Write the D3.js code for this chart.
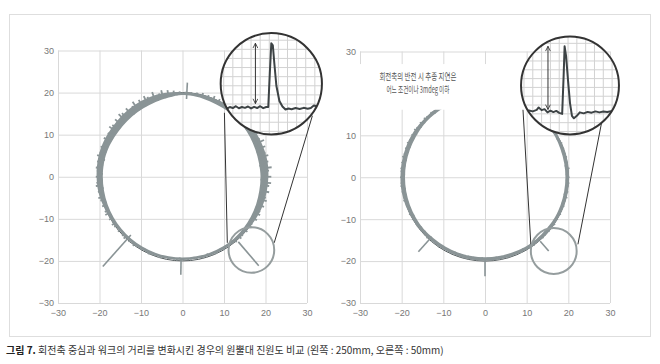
<!DOCTYPE html>
<html>
<head>
<meta charset="utf-8">
<script src="https://cdn.jsdelivr.net/npm/d3@7"></script>
<style>
  body { margin: 0; background: #fff; }
  svg { display: block; font-family: "Liberation Sans", "Noto Sans CJK KR", sans-serif; }
</style>
</head>
<body>
<div id="chart"></div>
<script>
// axis ticks (both panels)
const ticks = [-30, -20, -10, 0, 10, 20, 30];

// band (inner / outer radius of the measured trace), every 10 deg
const bandAngles = [0,10,20,30,40,50,60,70,80,90,100,110,120,130,140,150,160,170,
                    180,190,200,210,220,230,240,250,260,270,280,290,300,310,320,330,340,350];
const leftInner  = [18.8,18.7,18.7,18.8,18.9,19.0,19.0,19.1,19.3,19.4,19.1,18.9,18.8,18.8,18.8,18.9,19.1,19.2,
                    19.2,19.2,19.2,19.2,19.2,19.2,19.2,19.2,19.2,19.2,19.2,19.2,19.2,19.2,19.1,19.0,18.9,18.8];
const leftOuter  = [20.7,20.8,20.7,20.6,20.4,20.2,20.2,20.1,20.1,20.0,20.3,20.5,20.6,20.6,20.6,20.7,20.8,20.8,
                    20.7,20.6,20.3,20.1,19.9,19.9,19.9,19.9,19.8,19.8,19.8,19.9,19.9,20.0,20.1,20.3,20.5,20.6];
const rightInner = [19.3,19.3,19.3,19.4,19.4,19.4,19.4,19.4,19.4,19.4,19.4,19.4,19.3,19.3,19.3,19.2,19.2,19.2,
                    19.2,19.2,19.2,19.2,19.2,19.1,19.1,19.1,19.1,19.1,19.1,19.1,19.2,19.2,19.2,19.3,19.3,19.3];
const rightOuter = [20.2,20.2,20.2,20.1,20.1,20.1,20.1,20.1,20.1,20.1,20.1,20.2,20.2,20.2,20.2,20.3,20.3,20.3,
                    20.3,20.3,20.2,20.1,20.0,19.9,19.9,19.9,19.9,19.9,19.9,19.9,20.0,20.0,20.1,20.1,20.2,20.2];

// noise hairs: radius reached at each angle, every 2 deg
const hairAngles = d3.range(0, 360, 2);
const leftHair = [
  21.4,19.0,20.9,21.6,18.7,21.0,19.2,21.3,20.8,18.8,
  21.2,19.1,21.5,20.7,18.9,21.0,19.3,21.2,18.9,20.9,
  20.8,19.2,20.9,19.1,20.7,19.3,20.8,19.2,20.6,19.3,
  20.6,19.3,20.5,19.4,20.7,19.3,20.4,19.5,20.5,19.4,
  20.3,19.5,20.2,19.6,20.2,19.5,20.3,19.4,20.6,19.3,
  20.9,19.1,21.2,20.6,19.0,21.4,19.2,20.8,21.3,18.9,
  21.1,19.0,21.5,20.7,18.8,21.2,19.1,21.0,21.4,19.0,
  21.2,18.9,20.9,21.3,19.1,20.8,19.0,21.1,20.7,19.2,
  21.0,19.2,20.8,21.2,19.1,20.9,19.3,21.0,20.7,19.2,
  20.9,19.3,20.8,21.0,19.2,20.7,19.4,20.9,20.6,19.3,
  20.6,19.4,20.5,20.7,19.3,20.4,19.5,20.5,20.3,19.4,
  20.3,19.4,20.2,20.4,19.3,20.2,19.5,20.3,20.1,19.4,
  20.1,19.3,20.0,20.2,19.3,20.0,19.4,20.1,19.9,19.3,
  19.9,19.3,19.8,20.0,19.2,19.9,19.3,19.9,19.8,19.2,
  19.9,19.3,20.0,19.9,19.2,20.0,19.3,20.1,19.9,19.3,
  20.1,19.3,20.2,20.0,19.2,20.3,19.3,20.4,20.2,19.2,
  20.4,19.2,20.6,20.3,19.1,20.7,19.2,20.8,20.5,19.0,
  20.9,19.0,21.1,20.7,18.9,21.2,19.1,21.0,21.4,18.8];
const rightHair = [
  20.3,19.4,20.2,20.4,19.3,20.2,19.5,20.3,20.1,19.4,
  20.2,19.5,20.3,20.1,19.4,20.2,19.5,20.2,20.0,19.5,
  20.1,19.5,20.2,20.0,19.5,20.1,19.6,20.1,20.0,19.5,
  20.1,19.6,20.0,20.1,19.5,20.0,19.6,20.1,20.0,19.6,
  20.0,19.6,20.1,20.0,19.5,20.1,19.6,20.0,20.1,19.5,
  20.2,19.5,20.1,20.3,19.4,20.2,19.5,20.1,20.2,19.4,
  20.3,19.4,20.2,20.4,19.3,20.3,19.4,20.2,20.4,19.3,
  20.4,19.3,20.3,20.5,19.2,20.4,19.3,20.3,20.5,19.2,
  20.4,19.2,20.3,20.5,19.2,20.4,19.3,20.4,20.3,19.2,
  20.4,19.3,20.3,20.4,19.2,20.3,19.3,20.2,20.4,19.3,
  20.2,19.3,20.1,20.3,19.2,20.2,19.3,20.1,20.2,19.2,
  20.1,19.2,20.0,20.2,19.1,20.1,19.2,20.0,20.1,19.1,
  20.0,19.2,19.9,20.1,19.1,20.0,19.2,19.9,20.0,19.1,
  19.9,19.2,19.9,20.0,19.1,19.9,19.2,20.0,19.9,19.1,
  20.0,19.2,19.9,20.1,19.2,20.0,19.3,20.0,20.1,19.2,
  20.1,19.3,20.0,20.2,19.2,20.1,19.3,20.2,20.1,19.3,
  20.2,19.3,20.1,20.3,19.3,20.2,19.4,20.3,20.2,19.4,
  20.3,19.4,20.2,20.4,19.3,20.3,19.4,20.2,20.3,19.4];

// reversal spikes: [angle deg, r start, r end]
const leftSpikes  = [[87, 18.5, 22.4], [228, 18.6, 28.7], [269, 19.3, 23.3], [311, 20.5, 28.0]];
const rightSpikes = [[228, 19.8, 23.9], [270, 20.0, 23.6], [311, 20.2, 23.3]];
const refRadius = 20;

// zoomed trace inside the magnifier (local 0..100 units)
const leftMagX = [0,3,6,9,12,15,18,21,24,27,30,33,36,39,42,45,47,48.5,50,51.5,53,55,58,61,64,67,70,74,78,82,86,89,92,95,100];
const leftMagY = [26,27.5,25.5,27,26,27.8,25.8,27,26.2,27.5,25.6,27.2,26,27.8,25.9,27,27,60,90,88,70,48,33,27.5,24.5,25.5,24.8,26,25,26.2,25.3,26,28.5,27.8,26];
const rightMagX = [0,4,8,12,16,18,21,24,27,30,33,36,39,42,43.5,44.5,46,48,50,52,54,57,60,64,68,72,76,80,84,88,92,96,100];
const rightMagY = [24,23.2,24.5,23.5,25,27.5,24.8,25.8,22.5,24.2,22.8,24,22,21,60,90,80,55,32,19,16.5,19,22.5,21.5,23,22.2,23.5,22.5,23.3,22.8,23.6,23,23.5];
// double arrow: [x, y from, y to] local units
const leftArrow = [34.3, 30.4, 90];
const rightArrow = [27.5, 25.5, 90];

// magnifier & lens placement (data units)
const leftMag  = {cx: 21.4, cy: 22.1, r: 12.2};
const rightMag = {cx: 20.4, cy: 21.9, r: 11.75};
const leftLens  = {cx: 16.6, cy: -17.4, r: 5.5};
const rightLens = {cx: 16.5, cy: -17.6, r: 5.5};
const leftLinks  = [[10.1, 15.2, 10.8, -15.7], [31.3, 14.5, 22.1, -15.7]];
const rightLinks = [[9.1, 16.4, 11.0, -16.0], [28.5, 15.7, 22.3, -16.0]];

const noteLines = ["회전축의 반전 시 추종 지연은", "어느 조건이나 3mdeg 이하"];
const captionBold = "그림 7.";
const captionRest = " 회전축 중심과 워크의 거리를 변화시킨 경우의 원뿔대 진원도 비교 (왼쪽 : 250mm, 오른쪽 : 50mm)";

const W = 660, H = 364;
const traceColor = "#8a9496";

const svg = d3.select("#chart").append("svg")
    .attr("width", W).attr("height", H);

const defs = svg.append("defs");
defs.append("marker")
    .attr("id", "arrowhead")
    .attr("viewBox", "0 0 10 10")
    .attr("refX", 9).attr("refY", 5)
    .attr("markerWidth", 6).attr("markerHeight", 6)
    .attr("markerUnits", "userSpaceOnUse")
    .attr("orient", "auto-start-reverse")
  .append("path")
    .attr("d", "M1,1 L9,5 L1,9")
    .attr("fill", "none").attr("stroke", "#333").attr("stroke-width", 1.4);

// outer frame
svg.append("rect")
    .attr("x", 9.5).attr("y", 14.5)
    .attr("width", 641).attr("height", 322)
    .attr("fill", "none").attr("stroke", "#dedede");

function panel(opt) {
  const x = d3.scaleLinear().domain([-30, 30]).range(opt.xr);
  const y = d3.scaleLinear().domain([-30, 30]).range(opt.yr);
  const g = svg.append("g");

  // grid + labels
  const gy = g.append("g")
      .attr("transform", "translate(" + opt.xr[0] + ",0)")
      .call(d3.axisLeft(y).tickValues(ticks).tickSize(-(opt.xr[1] - opt.xr[0])).tickPadding(4));
  const gx = g.append("g")
      .attr("transform", "translate(0," + opt.yr[0] + ")")
      .call(d3.axisBottom(x).tickValues(ticks).tickSize(-(opt.yr[0] - opt.yr[1])).tickPadding(7));
  [gx, gy].forEach(a => {
    a.select(".domain").remove();
    a.selectAll("line").attr("stroke", "#d9d9d9");
    a.selectAll("text").attr("fill", "#777").style("font-size", "9px");
  });

  const pt = (deg, r) => [x(r * Math.cos(deg * Math.PI / 180)), y(r * Math.sin(deg * Math.PI / 180))];

  // reference circle
  g.append("ellipse")
      .attr("cx", x(0)).attr("cy", y(0))
      .attr("rx", x(refRadius) - x(0)).attr("ry", y(0) - y(refRadius))
      .attr("fill", "none").attr("stroke", "#4f5759").attr("stroke-width", 1);

  // band
  const closed = d3.line().curve(d3.curveCardinalClosed);
  const outer = closed(bandAngles.map((a, i) => pt(a, opt.outer[i])));
  const inner = closed(bandAngles.map((a, i) => pt(a, opt.inner[i])));
  g.append("path")
      .attr("d", outer + inner)
      .attr("fill-rule", "evenodd")
      .attr("fill", traceColor);

  // noise hairs from the band centre line
  const mid = a => {
    const k = Math.round(a / 10) % 36;
    return (opt.inner[k] + opt.outer[k]) / 2;
  };
  g.selectAll(".hair").data(hairAngles).enter().append("line")
      .attr("x1", a => pt(a, mid(a))[0]).attr("y1", a => pt(a, mid(a))[1])
      .attr("x2", (a, i) => pt(a, opt.hair[i])[0]).attr("y2", (a, i) => pt(a, opt.hair[i])[1])
      .attr("stroke", traceColor).attr("stroke-width", opt.hairWidth);

  // spikes
  g.selectAll(".spike").data(opt.spikes).enter().append("line")
      .attr("x1", d => pt(d[0], d[1])[0]).attr("y1", d => pt(d[0], d[1])[1])
      .attr("x2", d => pt(d[0], d[2])[0]).attr("y2", d => pt(d[0], d[2])[1])
      .attr("stroke", traceColor).attr("stroke-width", 1.6);

  // connecting lines
  g.selectAll(".link").data(opt.links).enter().append("line")
      .attr("x1", d => x(d[0])).attr("y1", d => y(d[1]))
      .attr("x2", d => x(d[2])).attr("y2", d => y(d[3]))
      .attr("stroke", "#333").attr("stroke-width", 1);

  // lens
  const lens = opt.lens;
  g.append("ellipse")
      .attr("cx", x(lens.cx)).attr("cy", y(lens.cy))
      .attr("rx", x(lens.cx + lens.r) - x(lens.cx)).attr("ry", x(lens.cx + lens.r) - x(lens.cx))
      .attr("fill", "none").attr("stroke", "#959d9e").attr("stroke-width", 2);

  // note box (right panel)
  if (opt.note) {
    g.append("rect")
        .attr("x", x(opt.note.x0)).attr("y", y(opt.note.y1))
        .attr("width", x(opt.note.x1) - x(opt.note.x0))
        .attr("height", y(opt.note.y0) - y(opt.note.y1))
        .attr("fill", "#fff");
    g.selectAll(".note").data(noteLines).enter().append("text")
        .attr("x", x(opt.note.tx))
        .attr("y", (d, i) => y(opt.note.ty[i]))
        .attr("text-anchor", "middle")
        .attr("fill", "#555")
        .style("font-family", "'Noto Sans CJK KR', sans-serif")
        .style("font-size", "9.5px")
        .attr("textLength", (d, i) => opt.note.len[i])
        .attr("lengthAdjust", "spacingAndGlyphs")
        .text(d => d);
  }

  // magnifier
  const m = opt.mag;
  const cx = x(m.cx), cy = y(m.cy), R = x(m.cx + m.r) - x(m.cx);
  const xm = d3.scaleLinear().domain([0, 100]).range([cx - R, cx + R]);
  const ym = d3.scaleLinear().domain([0, 100]).range([cy + R, cy - R]);
  defs.append("clipPath").attr("id", opt.id)
    .append("circle").attr("cx", cx).attr("cy", cy).attr("r", R);
  const mg = g.append("g");
  mg.append("circle").attr("cx", cx).attr("cy", cy).attr("r", R).attr("fill", "#fff");
  const inside = mg.append("g").attr("clip-path", "url(#" + opt.id + ")");
  const fine = d3.range(3, 100, 9);
  inside.selectAll(".vg").data(fine).enter().append("line")
      .attr("x1", d => xm(d)).attr("x2", d => xm(d))
      .attr("y1", ym(0)).attr("y2", ym(100))
      .attr("stroke", "#d2d2d2").attr("stroke-width", 1);
  inside.selectAll(".hg").data(fine).enter().append("line")
      .attr("y1", d => ym(d)).attr("y2", d => ym(d))
      .attr("x1", xm(0)).attr("x2", xm(100))
      .attr("stroke", "#d2d2d2").attr("stroke-width", 1);
  inside.append("path")
      .attr("d", d3.line().x(d => xm(d[0])).y(d => ym(d[1]))(opt.magX.map((v, i) => [v, opt.magY[i]])))
      .attr("fill", "none").attr("stroke", "#3d4345").attr("stroke-width", 2)
      .attr("stroke-linejoin", "round");
  inside.append("line")
      .attr("x1", xm(opt.arrow[0])).attr("x2", xm(opt.arrow[0]))
      .attr("y1", ym(opt.arrow[1])).attr("y2", ym(opt.arrow[2]))
      .attr("stroke", "#333").attr("stroke-width", 1)
      .attr("marker-start", "url(#arrowhead)").attr("marker-end", "url(#arrowhead)");
  mg.append("circle").attr("cx", cx).attr("cy", cy).attr("r", R)
      .attr("fill", "none").attr("stroke", "#333").attr("stroke-width", 2);
}

panel({
  id: "magL", xr: [58, 307], yr: [303, 50.5], hairWidth: 1.8,
  inner: leftInner, outer: leftOuter, hair: leftHair, spikes: leftSpikes,
  links: leftLinks, lens: leftLens, mag: leftMag,
  magX: leftMagX, magY: leftMagY, arrow: leftArrow
});
panel({
  id: "magR", xr: [360, 610], yr: [303, 51.5], hairWidth: 1.4,
  inner: rightInner, outer: rightOuter, hair: rightHair, spikes: rightSpikes,
  links: rightLinks, lens: rightLens, mag: rightMag,
  magX: rightMagX, magY: rightMagY, arrow: rightArrow,
  note: {x0: -36, x1: 10, y0: 16.1, y1: 27, tx: -16.1, ty: [23.1, 20.0], len: [77, 63]}
});

// caption
const cap = svg.append("text")
    .attr("x", 6).attr("y", 354)
    .style("font-family", "'Noto Sans CJK KR', sans-serif")
    .style("font-size", "10px")
    .attr("fill", "#333");
cap.append("tspan").attr("font-weight", "bold").attr("fill", "#222").text(captionBold);
cap.append("tspan").text(captionRest);
</script>
</body>
</html>
